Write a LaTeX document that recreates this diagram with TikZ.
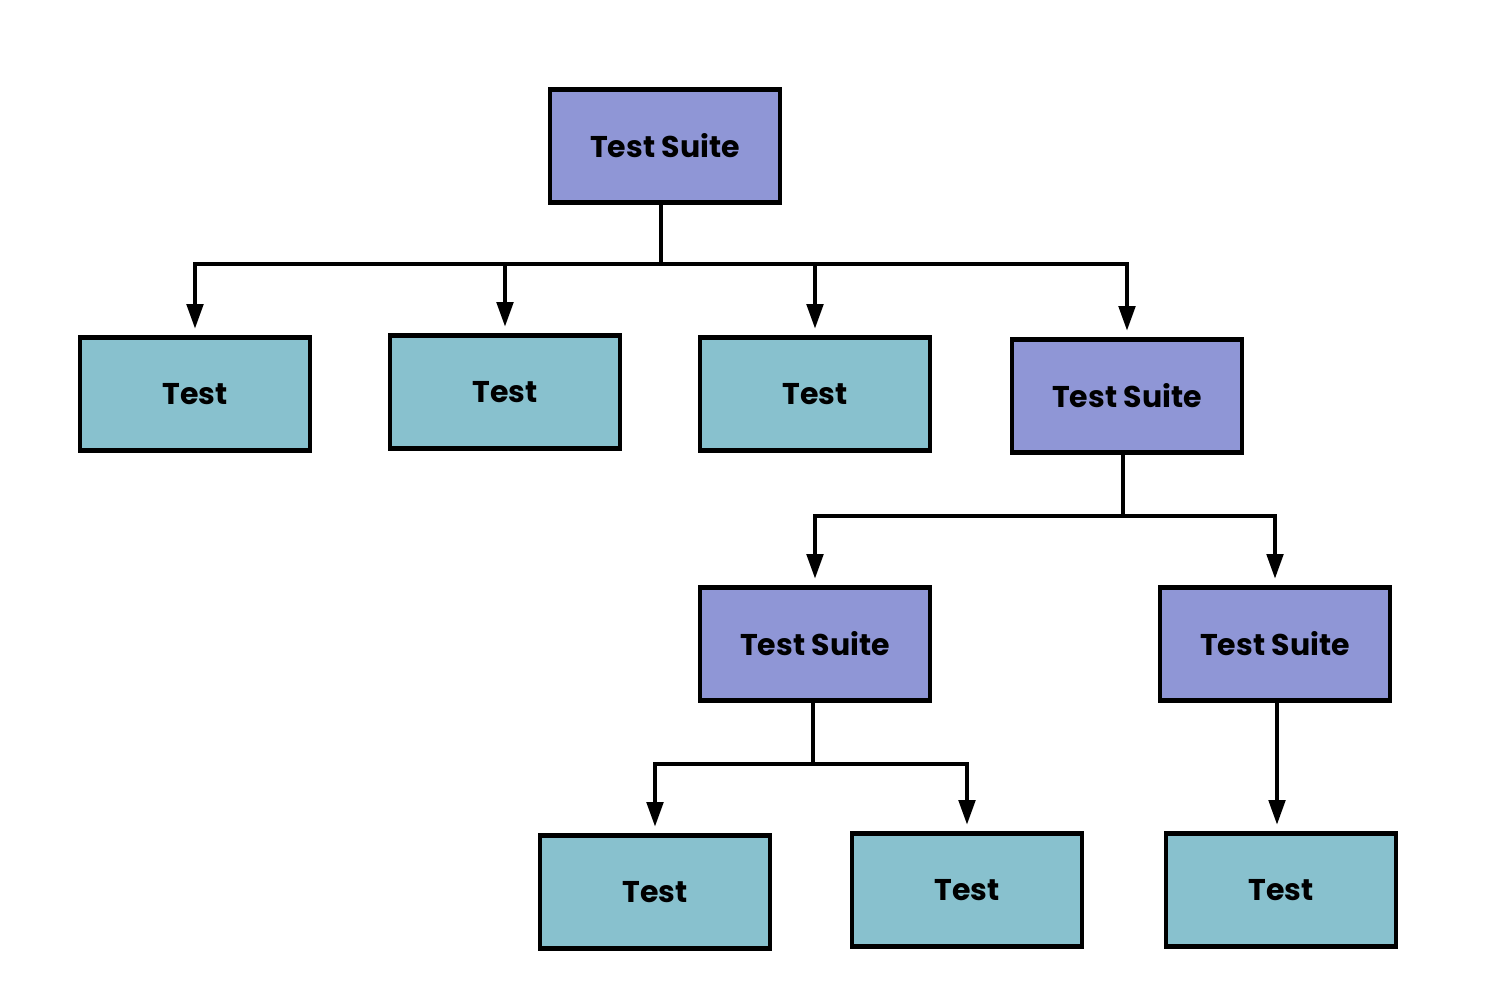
\documentclass[tikz,border=0pt]{standalone}
\usepackage{fontspec}
\setmainfont{Poppins}
\usetikzlibrary{arrows.meta}
\definecolor{suitec}{HTML}{8F96D6}
\definecolor{testc}{HTML}{88C1CE}
\tikzset{
  box/.style={draw=black, line width=2.4pt, minimum width=115pt, minimum height=56.5pt, inner sep=0pt, font=\fontsize{15}{17}\selectfont\bfseries},
  suitebox/.style={box, fill=suitec},
  testbox/.style={box, fill=testc},
  conn/.style={line width=2.4pt},
  arr/.style={conn, -{Triangle[length=12.5pt,width=8pt]}, shorten >=3pt},
}
\begin{document}
\begin{tikzpicture}[x=0.5pt,y=-0.5pt]
\useasboundingbox (0,0) rectangle (1498,996);
\fill[white] (0,0) rectangle (1498,996);
\node[suitebox] (root) at (665,146) {Test Suite};
\node[testbox] (t1) at (195,394) {Test};
\node[testbox] (t2) at (505,392) {Test};
\node[testbox] (t3) at (815,394) {Test};
\node[suitebox] (s2) at (1127,396) {Test Suite};
\node[suitebox] (s3) at (815,644) {Test Suite};
\node[suitebox] (s4) at (1275,644) {Test Suite};
\node[testbox] (t4) at (655,892) {Test};
\node[testbox] (t5) at (967,890) {Test};
\node[testbox] (t6) at (1281,890) {Test};
\coordinate (j1) at (661,264);
\coordinate (j2) at (1123,516);
\coordinate (j3) at (813,764);
\draw[conn] (root.south -| j1) -- (j1);
\draw[arr] (j1) -| (t1.north);
\draw[arr] (j1) -| (t2.north);
\draw[arr] (j1) -| (t3.north);
\draw[arr] (j1) -| (s2.north);
\draw[conn] (s2.south -| j2) -- (j2);
\draw[arr] (j2) -| (s3.north);
\draw[arr] (j2) -| (s4.north);
\draw[conn] (s3.south -| j3) -- (j3);
\draw[arr] (j3) -| (t4.north);
\draw[arr] (j3) -| (t5.north);
\coordinate (c4) at (1277,0);
\draw[arr] (s4.south -| c4) -- (t6.north -| c4);
\end{tikzpicture}
\end{document}
